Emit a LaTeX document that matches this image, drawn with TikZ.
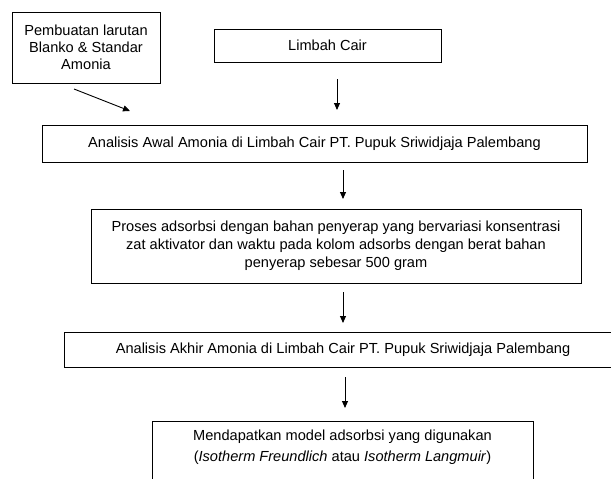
\documentclass[tikz,border=0pt]{standalone}
\usepackage{fontspec}
\setmainfont{Liberation Sans}
\usetikzlibrary{arrows.meta}
\begin{document}
\begin{tikzpicture}[x=1pt,y=-1pt,
  box/.style={draw, line width=0.9pt, inner sep=0pt, align=center, font=\fontsize{14.6}{17}\selectfont},
  arr/.style={line width=0.9pt, -{Triangle[length=7pt,width=6pt]}}]
\useasboundingbox (0,0) rectangle (611,479);
\clip (0,0) rectangle (611,479);
\node[box, minimum width=148pt, minimum height=71pt] (prep) at (86,47.5)
  {Pembuatan larutan\\Blanko \& Standar\\Amonia};
\node[box, minimum width=227pt, minimum height=33pt] (lc) at (327.5,45.5) {Limbah Cair};
\node[box, minimum width=545pt, minimum height=37pt] (awal) at (314.5,143.5)
  {Analisis Awal Amonia di Limbah Cair PT. Pupuk Sriwidjaja Palembang};
\node[box, minimum width=490pt, minimum height=74pt, font=\fontsize{14.6}{18}\selectfont] (proses) at (336,246)
  {Proses adsorbsi dengan bahan penyerap yang bervariasi konsentrasi\\zat aktivator dan waktu pada kolom adsorbs dengan berat bahan\\penyerap sebesar 500 gram};
\node[box, minimum width=558pt, minimum height=35pt] (akhir) at (343,349.5)
  {Analisis Akhir Amonia di Limbah Cair PT. Pupuk Sriwidjaja Palembang};
\node[box, anchor=north, minimum width=381pt, inner ysep=8pt, text depth=60pt, font=\fontsize{14.6}{21}\selectfont] (model) at (342.5,421)
  {Mendapatkan model adsorbsi yang digunakan\\(\textit{Isotherm Freundlich} atau \textit{Isotherm Langmuir})};
\coordinate (p1) at (74,89);
\coordinate (p2) at (130,111);
\coordinate (q1) at (337,79);
\coordinate (q2) at (337,110);
\coordinate (r1) at (343,170);
\coordinate (r2) at (343,199);
\coordinate (s1) at (343,292);
\coordinate (s2) at (343,323);
\coordinate (t1) at (345,377);
\coordinate (t2) at (345,408);
\draw[arr] (p1) -- (p2);
\draw[arr] (q1) -- (q2);
\draw[arr] (r1) -- (r2);
\draw[arr] (s1) -- (s2);
\draw[arr] (t1) -- (t2);
\end{tikzpicture}
\end{document}
